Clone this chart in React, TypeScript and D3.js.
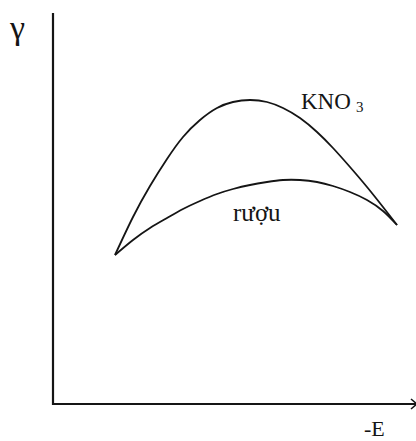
import React from "react";
import * as d3 from "d3";

// Surface tension (γ) against electrode potential (-E): electrocapillary curves
const potentialE = [62, 80, 97, 114, 130, 147, 164, 180, 197, 214, 230, 247, 264, 280, 297, 314, 330, 344];
const kno3Gamma = [149, 187, 218, 245, 267, 284, 296, 302, 304, 302, 296, 286, 272, 256, 237, 217, 197, 179];
const alcoholGamma = [149, 164, 176, 186, 195, 203, 210, 215, 219, 222, 224, 224, 222, 218, 212, 204, 193, 179];

const seriesLabels = ["KNO", "3", "rượu"];
const axisLabels = { y: "γ", x: "-E" };

const W = 416;
const H = 441;
const x0 = 53;
const yBase = 404;

export default function App() {
  const x = d3.scaleLinear().domain([0, 360]).range([x0, x0 + 360]);
  const y = d3.scaleLinear().domain([0, 390]).range([yBase, yBase - 390]);

  const line = d3
    .line<[number, number]>()
    .x((d) => x(d[0]))
    .y((d) => y(d[1]))
    .curve(d3.curveNatural);

  const kno3Path = line(potentialE.map((v, i) => [v, kno3Gamma[i]] as [number, number]));
  const alcoholPath = line(potentialE.map((v, i) => [v, alcoholGamma[i]] as [number, number]));

  const ink = "#151515";
  const font = "'Liberation Serif', 'Times New Roman', serif";

  return (
    <svg
      width={W}
      height={H}
      viewBox={`0 0 ${W} ${H}`}
      style={{ position: "absolute", left: 0, top: 0, background: "#fff" }}
    >
      {/* axes */}
      <line x1={x0} y1={13} x2={x0} y2={yBase + 1} stroke={ink} strokeWidth={2.2} />
      <line x1={x0 - 1} y1={yBase} x2={417} y2={yBase} stroke={ink} strokeWidth={2.2} />
      <polyline
        points={`411,399 417,${yBase} 411,409`}
        fill="none"
        stroke={ink}
        strokeWidth={1.6}
      />

      {/* curves */}
      <path d={kno3Path ?? ""} fill="none" stroke={ink} strokeWidth={1.8} />
      <path d={alcoholPath ?? ""} fill="none" stroke={ink} strokeWidth={1.8} />

      {/* labels */}
      <text x={10} y={39} fontFamily={font} fontSize={34} fill={ink}>
        {axisLabels.y}
      </text>
      <text x={364} y={436} fontFamily={font} fontSize={22} fill={ink}>
        {axisLabels.x}
      </text>
      <text x={301} y={109.3} fontFamily={font} fontSize={23} fill={ink}>
        {seriesLabels[0]}
      </text>
      <text x={356} y={111.7} fontFamily={font} fontSize={15} fill={ink}>
        {seriesLabels[1]}
      </text>
      <text x={233} y={221} fontFamily={font} fontSize={25} fill={ink}>
        {seriesLabels[2]}
      </text>
    </svg>
  );
}
